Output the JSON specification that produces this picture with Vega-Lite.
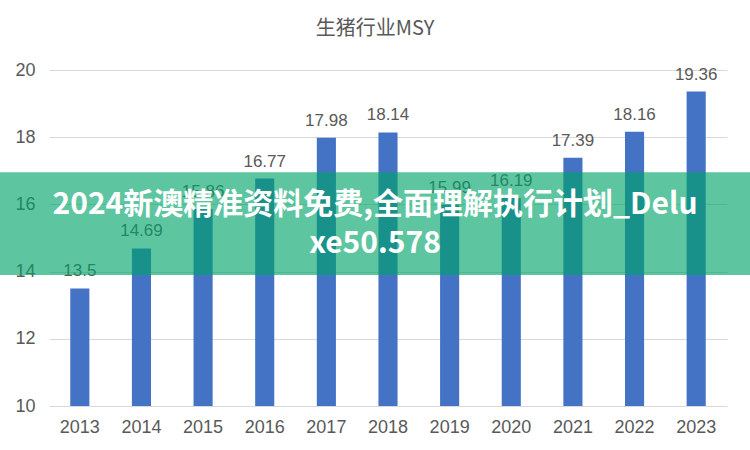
{
  "$schema": "https://vega.github.io/schema/vega-lite/v6.json",
  "autosize": "none",
  "width": 678,
  "height": 336,
  "padding": {"left": 49, "top": 70, "right": 23, "bottom": 44},
  "background": "white",
  "title": {"text": "生猪行业MSY", "fontSize": 20, "fontWeight": "normal", "color": "#595959", "font": "Noto Sans CJK SC", "offset": 22, "anchor": "middle", "frame": "bounds"},
  "config": {"view": {"stroke": null}},
  "datasets": {
    "bars": [
      {"year": "2013", "msy": 13.5},
      {"year": "2014", "msy": 14.69},
      {"year": "2015", "msy": 15.86},
      {"year": "2016", "msy": 16.77},
      {"year": "2017", "msy": 17.98},
      {"year": "2018", "msy": 18.14},
      {"year": "2019", "msy": 15.99},
      {"year": "2020", "msy": 16.19},
      {"year": "2021", "msy": 17.39},
      {"year": "2022", "msy": 18.16},
      {"year": "2023", "msy": 19.36}
    ],
    "banner": [
      {"x0": 0, "x1": 1, "y0": 16.96, "y1": 13.9, "xm": 0.5, "ym": 15.98, "label": "2024新澳精准资料免费,全面理解执行计划_Delu\nxe50.578"}
    ]
  },
  "layer": [
    {
      "data": {"name": "bars"},
      "encoding": {
        "x": {"field": "year", "type": "ordinal", "scale": {"paddingInner": 0.69, "paddingOuter": 0.345},
              "axis": {"title": null, "labelAngle": 0, "ticks": false, "domain": false, "labelFontSize": 18, "labelColor": "#595959", "labelFont": "Liberation Sans", "labelPadding": 12}},
        "y": {"field": "msy", "type": "quantitative", "scale": {"domain": [10, 20], "zero": false, "nice": false},
              "axis": {"title": null, "values": [10, 12, 14, 16, 18, 20], "ticks": false, "domain": false, "labelFontSize": 18, "labelColor": "#595959", "labelFont": "Liberation Sans", "labelPadding": 14, "gridColor": "#d9d9d9", "gridWidth": 1}}
      },
      "layer": [
        {"mark": {"type": "bar", "color": "#4472c4", "clip": true}},
        {
          "mark": {"type": "text", "baseline": "alphabetic", "dy": -12, "fontSize": 17, "color": "#595959", "font": "Liberation Sans"},
          "encoding": {"text": {"field": "msy", "type": "nominal"}}
        }
      ]
    },
    {
      "data": {"name": "banner"},
      "encoding": {
        "y": {"field": "y0", "type": "quantitative"}
      },
      "layer": [
        {
          "mark": {"type": "rect", "color": "#00a36a", "opacity": 0.63},
          "encoding": {
            "x": {"field": "x0", "type": "quantitative", "scale": {"domain": [0.06533, 0.96933], "nice": false, "zero": false}, "axis": null},
            "x2": {"field": "x1"},
            "y2": {"field": "y1"}
          }
        },
        {
          "mark": {"type": "text", "lineBreak": "\n", "lineHeight": 39, "fontSize": 30, "fontWeight": "bold", "color": "white", "font": "Noto Sans CJK SC", "align": "center", "baseline": "middle"},
          "encoding": {
            "x": {"field": "xm", "type": "quantitative", "axis": null},
            "y": {"field": "ym", "type": "quantitative"},
            "text": {"field": "label", "type": "nominal"}
          }
        }
      ]
    }
  ],
  "resolve": {"scale": {"x": "independent"}}
}
